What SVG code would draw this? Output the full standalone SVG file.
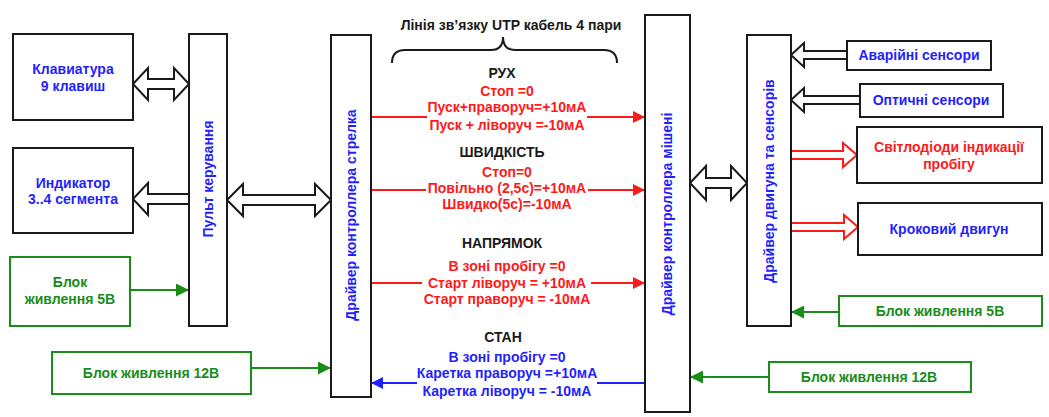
<svg xmlns="http://www.w3.org/2000/svg" width="1049" height="417" viewBox="0 0 1049 417">
<defs>
<style>
text{font-family:"Liberation Sans",Arial,sans-serif;font-weight:bold;font-size:14px;text-anchor:middle;dominant-baseline:central}
.box{fill:#fff;stroke:#1a1a1a;stroke-width:2}
.gbox{fill:#fff;stroke:#1a8c1a;stroke-width:2}
.b{fill:#1f1fff}.r{fill:#ff1a1a}.g{fill:#1a8c1a}.k{fill:#1a1a1a}
.hol{fill:#fff;stroke:#1a1a1a;stroke-width:2;stroke-linejoin:miter}
.holr{fill:#fff;stroke:#ff1a1a;stroke-width:2}
.gl{stroke:#1a8c1a;stroke-width:2;fill:none}
.rl{stroke:#ff1a1a;stroke-width:2;fill:none}
.bl{stroke:#1f1fff;stroke-width:2;fill:none}
</style>
<marker id="ag" viewBox="0 0 10 10" refX="10" refY="5" markerWidth="18" markerHeight="13" markerUnits="userSpaceOnUse" orient="auto"><path d="M0,0 L10,5 L0,10 Z" fill="#1a8c1a"/></marker>
<marker id="ar" viewBox="0 0 10 10" refX="10" refY="5" markerWidth="14" markerHeight="12" markerUnits="userSpaceOnUse" orient="auto"><path d="M0,0 L10,5 L0,10 Z" fill="#ff1a1a"/></marker>
<marker id="ab" viewBox="0 0 10 10" refX="10" refY="5" markerWidth="14" markerHeight="12" markerUnits="userSpaceOnUse" orient="auto"><path d="M0,0 L10,5 L0,10 Z" fill="#1f1fff"/></marker>
</defs>
<rect width="1049" height="417" fill="#fff"/>

<g id="connectors">
<path class="hol" d="M133,84 L148,68 L148,79 L174,79 L174,68 L189,84 L174,100 L174,89 L148,89 L148,100 Z"/>
<path class="hol" d="M133,199 L148,183 L148,194 L189,194 L189,204 L148,204 L148,215 Z"/>
<path class="hol" d="M227,200 L243,184 L243,195 L315,195 L315,184 L331,200 L315,216 L315,205 L243,205 L243,216 Z"/>
<path class="hol" d="M690,183 L706,166 L706,178 L731,178 L731,166 L747,183 L731,200 L731,188 L706,188 L706,200 Z"/>
<path class="hol" d="M791,55 L804,43 L804,51 L847,51 L847,59 L804,59 L804,67 Z"/>
<path class="hol" d="M791,100 L804,88 L804,96 L860,96 L860,104 L804,104 L804,112 Z"/>
<path class="holr" d="M791,151 L843,151 L843,143 L857,155 L843,167 L843,159 L791,159 Z"/>
<path class="holr" d="M791,223 L844,223 L844,215 L858,227 L844,239 L844,231 L791,231 Z"/>
<line class="gl" x1="130" y1="290" x2="189" y2="290" marker-end="url(#ag)"/>
<line class="gl" x1="251" y1="368" x2="331" y2="368" marker-end="url(#ag)"/>
<line class="gl" x1="839" y1="312" x2="791" y2="312" marker-end="url(#ag)"/>
<line class="gl" x1="769" y1="377" x2="690" y2="377" marker-end="url(#ag)"/>
<line class="rl" x1="371" y1="117" x2="427" y2="117"/>
<line class="rl" x1="587" y1="117" x2="645" y2="117" marker-end="url(#ar)"/>
<line class="rl" x1="371" y1="190" x2="426" y2="190"/>
<line class="rl" x1="588" y1="190" x2="645" y2="190" marker-end="url(#ar)"/>
<line class="rl" x1="371" y1="283" x2="422" y2="283"/>
<line class="rl" x1="591" y1="283" x2="645" y2="283" marker-end="url(#ar)"/>
<line class="bl" x1="645" y1="383" x2="597" y2="383"/>
<line class="bl" x1="417" y1="383" x2="371" y2="383" marker-end="url(#ab)"/>
<path d="M392,63 Q392,50 405,50 L491,50 Q503,50 503,37 Q503,50 515,50 L604,50 Q617,50 617,63" fill="none" stroke="#1a1a1a" stroke-width="2"/>
</g>

<g id="keyboard"><rect class="box" x="13" y="34" width="120" height="86"/><text class="b" x="73" y="69">Клавиатура</text><text class="b" x="73" y="86">9 клавиш</text></g>
<g id="indicator"><rect class="box" x="13" y="148" width="120" height="85"/><text class="b" x="73" y="183">Индикатор</text><text class="b" x="73" y="199">3..4 сегмента</text></g>
<g id="power5-left"><rect class="gbox" x="10" y="257" width="120" height="69"/><text class="g" x="70" y="282">Блок</text><text class="g" x="70" y="299">живлення 5В</text></g>
<g id="power12-left"><rect class="gbox" x="52" y="352" width="199" height="42"/><text class="g" x="151" y="373">Блок живлення 12В</text></g>
<g id="console"><rect class="box" x="189" y="34" width="38" height="292"/><text class="b" transform="translate(208,179) rotate(-90)">Пульт керування</text></g>
<g id="driver-arrow"><rect class="box" x="331" y="35" width="40" height="362"/><text class="b" transform="translate(351,215) rotate(-90)">Драйвер контроллера стрелка</text></g>
<g id="driver-target"><rect class="box" x="645" y="15" width="45" height="397"/><text class="b" transform="translate(667,214) rotate(-90)">Драйвер контроллера мішені</text></g>
<g id="driver-motor"><rect class="box" x="747" y="35" width="44" height="291"/><text class="b" transform="translate(769,181) rotate(-90)">Драйвер двигуна та сенсорів</text></g>
<g id="emergency"><rect class="box" x="847" y="41" width="144" height="29"/><text class="b" x="919" y="55">Аварійні сенсори</text></g>
<g id="optical"><rect class="box" x="860" y="84" width="143" height="33"/><text class="b" x="931" y="100">Оптичні сенсори</text></g>
<g id="leds"><rect class="box" x="857" y="127" width="185" height="56"/><text class="r" x="949" y="147">Світлодіоди індикації</text><text class="r" x="949" y="164">пробігу</text></g>
<g id="stepper"><rect class="box" x="858" y="203" width="184" height="52"/><text class="b" x="949" y="229">Кроковий двигун</text></g>
<g id="power5-right"><rect class="gbox" x="839" y="296" width="203" height="30"/><text class="g" x="940" y="311">Блок живлення 5В</text></g>
<g id="power12-right"><rect class="gbox" x="769" y="362" width="202" height="30"/><text class="g" x="869" y="377">Блок живлення 12В</text></g>

<g id="labels">
<text class="k" x="511" y="25">Лінія зв’язку  UTP кабель 4 пари</text>
<text class="k" x="502" y="73">РУХ</text>
<text class="r" x="507" y="91">Стоп =0</text>
<text class="r" x="507" y="107">Пуск+праворуч=+10мА</text>
<text class="r" x="507" y="125">Пуск + ліворуч =-10мА</text>
<text class="k" x="502" y="152">ШВИДКІСТЬ</text>
<text class="r" x="507" y="172">Стоп=0</text>
<text class="r" x="507" y="188">Повільно (2,5с)=+10мА</text>
<text class="r" x="507" y="204">Швидко(5с)=-10мА</text>
<text class="k" x="502" y="243">НАПРЯМОК</text>
<text class="r" x="507" y="266">В зоні пробігу =0</text>
<text class="r" x="507" y="283">Старт ліворуч = +10мА</text>
<text class="r" x="507" y="299">Старт праворуч = -10мА</text>
<text class="k" x="503" y="337">СТАН</text>
<text class="b" x="507" y="357">В зоні пробігу =0</text>
<text class="b" x="507" y="373">Каретка праворуч =+10мА</text>
<text class="b" x="507" y="391">Каретка ліворуч = -10мА</text>
</g>
</svg>
